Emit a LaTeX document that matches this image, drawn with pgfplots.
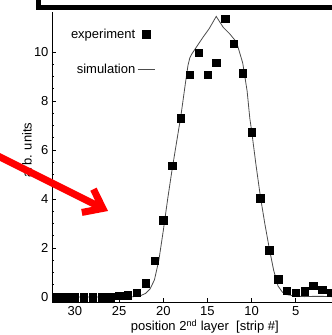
\documentclass[border=0pt]{standalone}
\usepackage{fontspec}
\setmainfont{Liberation Sans}
\usepackage{pgfplots}
\pgfplotsset{compat=1.18}
\usetikzlibrary{arrows.meta}
\begin{document}
\fontsize{13}{15}\selectfont
\begin{tikzpicture}[x=1pt,y=1pt]
\useasboundingbox (0,0) rectangle (332,335);
\begin{axis}[
  at={(52pt,33pt)}, anchor=south west,
  scale only axis, width=280pt, height=290pt,
  x dir=reverse,
  xmin=0.89, xmax=32.6,
  ymin=-0.2, ymax=11.63,
  axis x line*=bottom, axis y line*=left,
  axis line style={line width=0.9pt},
  xtick={5,10,15,20,25,30},
  ytick={0,2,4,6,8,10},
  minor y tick num=3,
  tick align=inside,
  major tick length=4pt, minor tick length=2pt,
  tick style={line width=0.8pt, black},
  /pgf/number format/assume math mode=true,
  tick label style={font=\fontsize{13}{15}\selectfont},
  yticklabel style={xshift=1pt},
  xlabel={position 2\textsuperscript{nd} layer\ \ [strip \#]},
  ylabel={arb. units},
  label style={font=\fontsize{13}{15}\selectfont},
  xlabel style={at={(axis description cs:0.546,-0.085)}, anchor=center},
  ylabel style={at={(axis description cs:-0.089,0.524)}, anchor=center, rotate=0},
  legend plot pos=right,
  legend cell align=right,
  legend style={draw=none, fill=none, at={(axis description cs:0.38,0.957)}, anchor=north east,
    row sep=20pt, font=\fontsize{13}{15}\selectfont},
]
\addplot[only marks, mark=square*, mark size=3.7pt, black] coordinates {
(32,0.0) (31,0.0) (30,0.0) (29,0.0) (28,0.0) (27,0.0) (26,0.0) (25,0.05)
(24,0.08) (23,0.19) (22,0.56) (21,1.48) (20,3.14) (19,5.36) (18,7.3) (17,9.07)
(16,9.97) (15,9.06) (14,9.56) (13,11.35) (12,10.34) (11,9.13) (10,6.73) (9,4.03)
(8,1.92) (7,0.73) (6,0.26) (5,0.19) (4,0.24) (3,0.46) (2,0.31) (1,0.19)
};
\addlegendentry{experiment}
\addplot[black!70, line width=0.8pt, mark=none] coordinates {
(32,0.0) (26,0.0) (24,0.0) (23,0.03) (22.5,0.07) (22,0.15) (21.5,0.33) (21,0.7)
(20.5,1.5) (20,2.7) (19.5,4.0) (19,5.2) (18.5,6.3) (18,7.4) (17.5,8.7) (17.2,9.45)
(17.0,9.75) (16.8,9.9) (15.5,10.6) (14.8,10.95) (14.0,11.45) (13.2,11.0) (12.5,10.75)
(11.7,10.4) (11.0,9.55) (10.5,8.4) (10.2,7.3) (10,6.8) (9.5,5.4) (9,4.1) (8.5,3.0)
(8,2.0) (7.5,1.1) (7,0.45) (6.5,0.2) (6,0.1) (5,0.04) (4,0.02) (3,0.03) (2,0.03)
(1,0.02) (0.5,0.0)
};
\addlegendentry{simulation}
\end{axis}
\draw[line width=4.5pt, line join=miter] (38.5,340) -- (38.5,327.5) -- (345,327.5);
\draw[red, line width=7pt, -{Straight Barb[length=17pt,width=26pt]}] (-12,184) -- (108,124);
\end{tikzpicture}
\end{document}
